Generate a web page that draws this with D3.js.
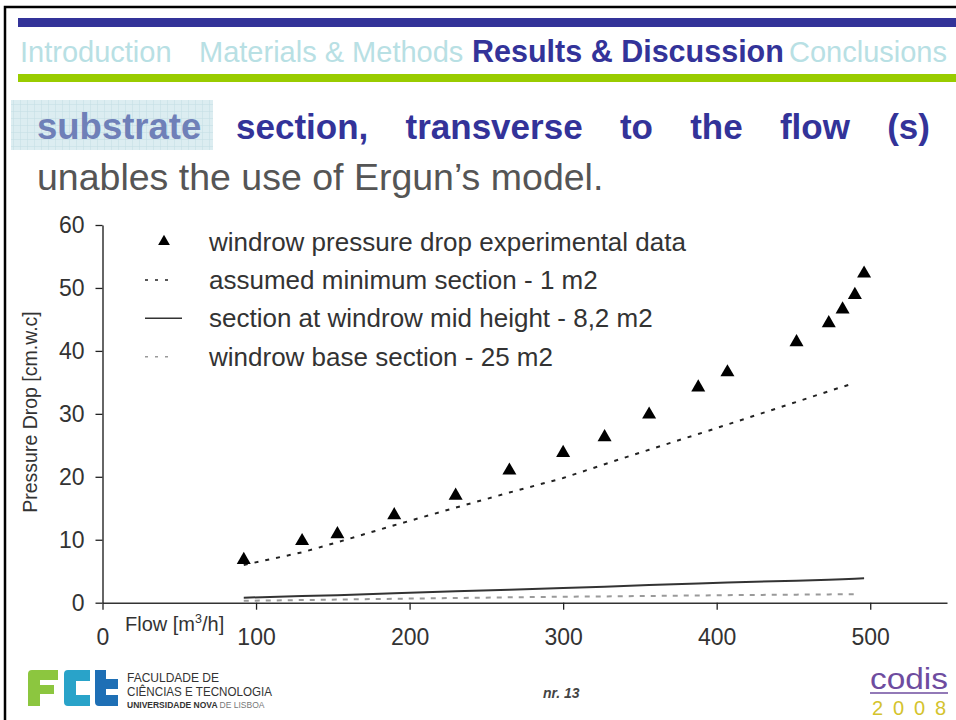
<!DOCTYPE html>
<html>
<head>
<meta charset="utf-8">
<script src="https://cdn.jsdelivr.net/npm/d3@7"></script>
<style>
  body { margin: 0; background: #fff; }
  svg { display: block; }
  text { font-family: "Liberation Sans", Arial, sans-serif; }
</style>
</head>
<body>
<div id="slide"></div>
<script>
// experimental points
const flowExp = [92, 130, 153, 190, 230, 265, 300, 327, 356, 388, 407, 452, 473, 482, 490, 496];
const dropExp = [6.8, 9.8, 10.9, 13.9, 17.0, 21.0, 23.8, 26.3, 29.9, 34.2, 36.6, 41.4, 44.4, 46.6, 48.9, 52.3];

// model curves (Ergun) for three sections
const flowModel = [92, 130, 153, 190, 230, 265, 300, 327, 356, 388, 407, 452, 473, 482, 490, 496];
const dropMin  = [6.0, 8.0, 9.6, 12.3, 15.1, 17.5, 19.8, 22.0, 24.3, 26.8, 28.3, 31.9, 33.6, 34.3, 34.9, null];
const dropMid  = [0.8, 1.05, 1.2, 1.5, 1.8, 2.05, 2.35, 2.55, 2.8, 3.05, 3.2, 3.5, 3.65, 3.72, 3.8, 3.87];
const dropBase = [0.3, 0.42, 0.5, 0.62, 0.75, 0.85, 0.95, 1.0, 1.07, 1.15, 1.2, 1.28, 1.32, 1.34, 1.36, null];

const xTicks = [0, 100, 200, 300, 400, 500];
const yTicks = [0, 10, 20, 30, 40, 50, 60];

const legendLabels = [
    "windrow pressure drop experimental data",
    "assumed minimum section - 1 m2",
    "section at windrow mid height - 8,2 m2",
    "windrow base section - 25 m2"
];

const navItems = ["Introduction", "Materials & Methods", "Results & Discussion", "Conclusions"];
const navActive = 2;
const titleWords = ["section,", "transverse", "to", "the", "flow", "(s)"];

const width = 956, height = 720;
const navX = [20, 199, 472, 789];

let svg = d3.select('#slide').append('svg')
    .attr('width', width)
    .attr('height', height);

// slide frame
svg.append('path')
    .attr('d', `M5,${height} V7 H${width}`)
    .attr('fill', 'none')
    .attr('stroke', '#000')
    .attr('stroke-width', 2.5);

// header bars
svg.append('rect').attr('x', 18).attr('y', 18).attr('width', width - 18).attr('height', 9).attr('fill', '#333399');
svg.append('rect').attr('x', 18).attr('y', 74).attr('width', width - 18).attr('height', 8).attr('fill', '#99cc00');

// navigation
svg.selectAll('.nav')
    .data(navItems)
    .enter().append('text')
    .attr('class', 'nav')
    .attr('x', (d, i) => navX[i])
    .attr('y', 62)
    .attr('font-size', (d, i) => i === navActive ? 30.5 : 29)
    .attr('font-weight', (d, i) => i === navActive ? 'bold' : 'normal')
    .attr('fill', (d, i) => i === navActive ? '#333399' : '#b8e0e4')
    .text(d => d);

// highlighted word box with a faint grid
let defs = svg.append('defs');
let pat = defs.append('pattern')
    .attr('id', 'grid')
    .attr('width', 7).attr('height', 7)
    .attr('patternUnits', 'userSpaceOnUse');
pat.append('rect').attr('width', 7).attr('height', 7).attr('fill', '#dcedf1');
pat.append('path').attr('d', 'M7,0 V7 M0,7 H7').attr('stroke', '#c3dde4').attr('stroke-width', 1);

svg.append('rect').attr('x', 11).attr('y', 100).attr('width', 202).attr('height', 50).attr('fill', 'url(#grid)');
svg.append('text')
    .attr('x', 37).attr('y', 139)
    .attr('font-size', 36.5).attr('font-weight', 'bold')
    .attr('fill', '#6f80b8')
    .text('substrate');

// justified title words
let words = svg.append('g').attr('font-size', 35).attr('font-weight', 'bold').attr('fill', '#333399');
let wordNodes = words.selectAll('text').data(titleWords).enter().append('text')
    .attr('y', 139)
    .text(d => d);
let wWidths = [];
wordNodes.each(function () { wWidths.push(this.getComputedTextLength()); });
let x0 = 236, x1 = 930;
let gap = (x1 - x0 - d3.sum(wWidths)) / (titleWords.length - 1);
let cx = x0;
wordNodes.attr('x', (d, i) => { let p = cx; cx += wWidths[i] + gap; return p; });

svg.append('text')
    .attr('x', 37).attr('y', 190)
    .attr('font-size', 37.5)
    .attr('fill', '#555555')
    .text('unables the use of Ergun\u2019s model.');

// ---- chart ----
let x = d3.scaleLinear().domain([0, 550]).range([102.5, 947]);
let y = d3.scaleLinear().domain([0, 60]).range([602.7, 225]);

let xAxis = d3.axisBottom(x)
    .tickValues(xTicks).tickSizeInner(7).tickSizeOuter(0).tickPadding(19);
let yAxis = d3.axisLeft(y)
    .tickValues(yTicks).tickSizeInner(7).tickSizeOuter(0).tickPadding(11);

let gx = svg.append('g').attr('transform', `translate(0,${y(0)})`).call(xAxis);
let gy = svg.append('g').attr('transform', `translate(${x(0)},0)`).call(yAxis);

[gx, gy].forEach(g => {
    g.select('.domain').attr('stroke', '#333').attr('stroke-width', 1.5);
    g.selectAll('.tick line').attr('stroke', '#222').attr('stroke-width', 1.3);
    g.selectAll('.tick text')
        .attr('font-family', '"Liberation Sans", Arial, sans-serif')
        .attr('font-size', 23)
        .attr('fill', '#333');
});

// axis titles
svg.append('text')
    .attr('transform', 'translate(37,412) rotate(-90)')
    .attr('text-anchor', 'middle')
    .attr('font-size', 19.5)
    .attr('fill', '#333')
    .text('Pressure Drop [cm.w.c]');

let flowLabel = svg.append('text')
    .attr('x', 125).attr('y', 631)
    .attr('font-size', 20)
    .attr('fill', '#333');
flowLabel.append('tspan').text('Flow [m');
flowLabel.append('tspan').attr('font-size', 12.5).attr('dy', -8).text('3');
flowLabel.append('tspan').attr('dy', 8).text('/h]');

// model lines
let line = d3.line()
    .defined(d => d[1] != null)
    .x(d => x(d[0]))
    .y(d => y(d[1]));

const lineStyles = [
    { values: dropMin,  stroke: '#222', width: 2,   dash: '4,7' },
    { values: dropMid,  stroke: '#333', width: 2,   dash: null },
    { values: dropBase, stroke: '#9a9a9a', width: 2, dash: '5,6' }
];

svg.selectAll('.model')
    .data(lineStyles)
    .enter().append('path')
    .attr('class', 'model')
    .attr('fill', 'none')
    .attr('stroke', d => d.stroke)
    .attr('stroke-width', d => d.width)
    .attr('stroke-dasharray', d => d.dash)
    .attr('d', d => line(flowModel.map((f, i) => [f, d.values[i]])));

// experimental points
let tri = d3.symbol().type(d3.symbolTriangle).size(85);
svg.selectAll('.pt')
    .data(flowExp.map((f, i) => [f, dropExp[i]]))
    .enter().append('path')
    .attr('class', 'pt')
    .attr('d', tri)
    .attr('fill', '#000')
    .attr('transform', d => `translate(${x(d[0])},${y(d[1])})`);

// legend
let legend = svg.selectAll('.legend')
    .data(legendLabels)
    .enter().append('g')
    .attr('class', 'legend')
    .attr('transform', (d, i) => `translate(0,${241.5 + i * 38.4})`);

legend.append('text')
    .attr('x', 209)
    .attr('dy', '0.35em')
    .attr('font-size', 26)
    .attr('fill', '#333')
    .text(d => d);

legend.filter((d, i) => i === 0).append('path')
    .attr('d', d3.symbol().type(d3.symbolTriangle).size(60))
    .attr('transform', 'translate(164,0)')
    .attr('fill', '#000');

legend.filter((d, i) => i > 0).append('line')
    .attr('x1', 145).attr('x2', (d, i) => i === 1 ? 182 : 174)
    .attr('stroke', (d, i) => lineStyles[i].stroke)
    .attr('stroke-width', (d, i) => lineStyles[i].width - 0.5)
    .attr('stroke-dasharray', (d, i) => lineStyles[i].dash ? '3,7' : null);

// ---- footer ----
let logo = svg.append('g').attr('transform', 'translate(28,670)');
// F
logo.append('path').attr('fill', '#8cc63f')
    .attr('d', 'M0,4 Q0,0 4,0 H30 V10 H12 V15 H26 V24 H12 V36 H0 Z');
// C
logo.append('path').attr('fill', '#29a3c9')
    .attr('d', 'M36,4 Q36,0 40,0 H62 V11 H48 V25 H62 V36 H40 Q36,36 36,32 Z');
// t
logo.append('path').attr('fill', '#1e6fb5')
    .attr('d', 'M67,0 H78 V9 H90 V19 H78 V25 H90 V36 H71 Q67,36 67,32 Z');

let fct = svg.append('g').attr('fill', '#333');
fct.append('text').attr('x', 127).attr('y', 682).attr('font-size', 13)
    .attr('textLength', 92).attr('lengthAdjust', 'spacingAndGlyphs').text('FACULDADE DE');
fct.append('text').attr('x', 127).attr('y', 696).attr('font-size', 13)
    .attr('textLength', 145).attr('lengthAdjust', 'spacingAndGlyphs').text('CIÊNCIAS E TECNOLOGIA');
let univ = fct.append('text').attr('x', 127).attr('y', 708).attr('font-size', 8.5).attr('font-weight', 'bold');
univ.append('tspan').text('UNIVERSIDADE NOVA ');
univ.append('tspan').attr('font-weight', 'normal').attr('fill', '#777').text('DE LISBOA');

svg.append('text')
    .attr('x', 543).attr('y', 698)
    .attr('font-size', 14)
    .attr('font-style', 'italic')
    .attr('font-weight', 'bold')
    .attr('fill', '#444')
    .text('nr. 13');

svg.append('text')
    .attr('x', 870).attr('y', 689)
    .attr('font-size', 29)
    .attr('textLength', 78).attr('lengthAdjust', 'spacingAndGlyphs')
    .attr('fill', '#6e4c9f')
    .text('codis');
svg.append('line').attr('x1', 870).attr('x2', 948).attr('y1', 693).attr('y2', 693)
    .attr('stroke', '#6e4c9f').attr('stroke-width', 1.5);
svg.append('text')
    .attr('x', 872).attr('y', 715)
    .attr('font-size', 20)
    .attr('textLength', 74).attr('lengthAdjust', 'spacing')
    .attr('fill', '#d4c32d')
    .text('2008');
</script>
</body>
</html>
